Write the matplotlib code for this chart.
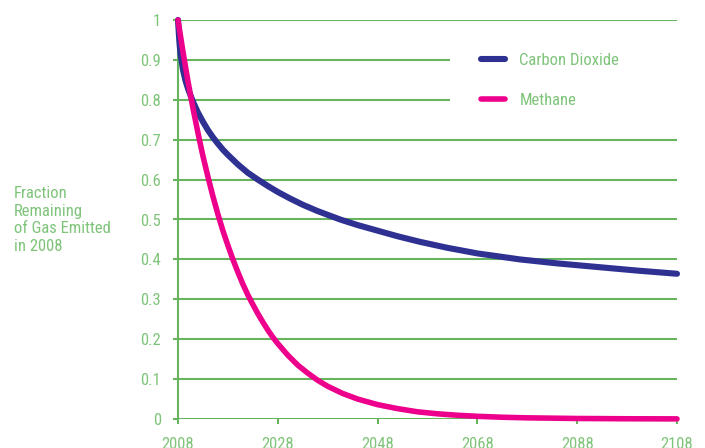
import matplotlib
matplotlib.use("Agg")
import matplotlib.pyplot as plt
from matplotlib import font_manager
from matplotlib.patches import Rectangle

# fraction of the 2008 emission still in the atmosphere
co2_years = [2008, 2008.25, 2008.5, 2009, 2009.5, 2010, 2011, 2012, 2013,
             2014, 2015, 2016, 2017, 2018, 2020, 2022, 2024, 2026, 2028,
             2030.4, 2033, 2036, 2040.5, 2044, 2048, 2052, 2056.5, 2062,
             2068, 2076.5, 2084, 2092, 2100, 2108]
co2_frac = [1.0, 0.95, 0.915, 0.875, 0.848, 0.828, 0.795, 0.768, 0.745,
            0.724, 0.706, 0.69, 0.675, 0.662, 0.638, 0.617, 0.6, 0.584,
            0.569, 0.553, 0.537, 0.521, 0.5, 0.486, 0.472, 0.458, 0.444,
            0.429, 0.415, 0.4, 0.39, 0.381, 0.372, 0.364]

ch4_years = [2008, 2009, 2010, 2011, 2012, 2013, 2014, 2015, 2016, 2017,
             2018, 2019, 2020, 2021, 2022, 2023, 2024, 2025, 2026, 2027,
             2028, 2030, 2032, 2034, 2036, 2038, 2041, 2044, 2048, 2052,
             2056, 2060, 2064, 2068, 2073, 2078, 2088, 2098, 2108]
ch4_frac = [1.0, 0.92, 0.846, 0.779, 0.717, 0.659, 0.607, 0.558, 0.513,
            0.472, 0.435, 0.4, 0.368, 0.338, 0.311, 0.287, 0.264, 0.243,
            0.223, 0.205, 0.189, 0.16, 0.135, 0.115, 0.097, 0.082, 0.064,
            0.05, 0.036, 0.026, 0.018, 0.013, 0.0094, 0.0067, 0.0044,
            0.0029, 0.0013, 0.0006, 0.0003]

x_ticks = [2008, 2028, 2048, 2068, 2088, 2108]
y_ticks = [0, 0.1, 0.2, 0.3, 0.4, 0.5, 0.6, 0.7, 0.8, 0.9, 1]
y_tick_labels = ["0", "0.1", "0.2", "0.3", "0.4", "0.5", "0.6", "0.7",
                 "0.8", "0.9", "1"]

GRID = "#66b55e"
TEXT = "#7fc47a"
CO2_COLOR = "#2e3192"
CH4_COLOR = "#ec008c"

installed = {f.name for f in font_manager.fontManager.ttflist}
for fam in ["Liberation Sans Narrow", "Roboto Condensed", "Liberation Sans"]:
    if fam in installed:
        plt.rcParams["font.family"] = [fam, "DejaVu Sans"]
        break

fig = plt.figure(figsize=(7.05, 4.48), dpi=100)
ax = fig.add_axes([178 / 705, 29 / 448, 499 / 705, 399 / 448])

ax.plot(co2_years, co2_frac, color=CO2_COLOR, lw=4.4,
        solid_capstyle="round", solid_joinstyle="round", clip_on=False,
        zorder=3, label="Carbon Dioxide")
ax.plot(ch4_years, ch4_frac, color=CH4_COLOR, lw=4.0,
        solid_capstyle="round", solid_joinstyle="round", clip_on=False,
        zorder=4, label="Methane")

ax.set_xlim(2008, 2108)
ax.set_ylim(0, 1)
ax.set_xticks(x_ticks)
ax.set_yticks(y_ticks)
ax.set_yticklabels(y_tick_labels)

ax.set_axisbelow(True)
ax.grid(axis="y", color=GRID, lw=1.5)
for side in ["top", "right", "bottom"]:
    ax.spines[side].set_visible(False)
ax.spines["left"].set_color(GRID)
ax.spines["left"].set_linewidth(1.5)

ax.tick_params(axis="y", colors=GRID, labelcolor=TEXT, length=3.6,
               width=1.5, pad=8.5, labelsize=12)
ax.tick_params(axis="x", colors=GRID, labelcolor=TEXT, length=3.6,
               width=1.5, pad=9.5, labelsize=12)

# white panel behind the legend hides the grid there
ax.add_patch(Rectangle((0.545, 0.75), 0.5, 0.2, transform=ax.transAxes,
                       facecolor="white", edgecolor="none", zorder=1,
                       clip_on=False))

leg = ax.legend(loc="upper left", bbox_to_anchor=(0.594, 0.935),
                frameon=False, fontsize=12, handlelength=1.45,
                handletextpad=0.85, labelspacing=1.5, borderaxespad=0)
for t in leg.get_texts():
    t.set_color(TEXT)
for h in leg.get_lines():
    h.set_solid_capstyle("round")

fig.text(14 / 705, (448 - 220) / 448,
         "Fraction\nRemaining\nof Gas Emitted\nin 2008",
         ha="left", va="center", color=TEXT, fontsize=12, linespacing=1.2)

fig.savefig("out.png", dpi=100, facecolor="white")
